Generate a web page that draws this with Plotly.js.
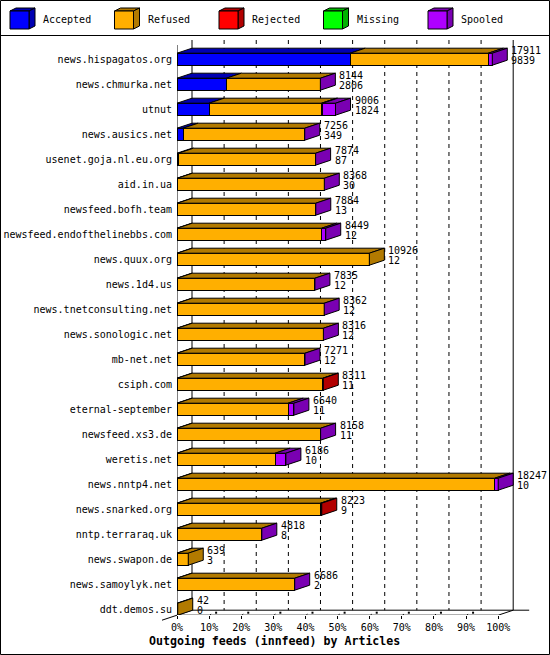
<!DOCTYPE html>
<html><head><meta charset="utf-8">
<script src="https://cdn.plot.ly/plotly-3.0.1.min.js"></script>
<style>html,body{margin:0;padding:0;background:#fff}#chart{width:550px;height:655px}</style>
</head><body><div id="chart"></div>
<script>
// ---- data ----
const feeds = ['news.hispagatos.org','news.chmurka.net','utnut','news.ausics.net','usenet.goja.nl.eu.org','aid.in.ua','newsfeed.bofh.team','newsfeed.endofthelinebbs.com','news.quux.org','news.1d4.us','news.tnetconsulting.net','news.sonologic.net','mb-net.net','csiph.com','eternal-september','newsfeed.xs3.de','weretis.net','news.nntp4.net','news.snarked.org','nntp.terraraq.uk','news.swapon.de','news.samoylyk.net','ddt.demos.su'];
const accepted = [9839,2806,1824,349,87,30,13,12,12,12,12,12,12,11,11,11,10,10,9,8,3,2,0];
const refused  = [7843,5338,6384,6907,7787,8338,7871,8209,10914,7823,8350,8304,7259,8276,6304,8147,5566,18047,8140,4810,636,6684,42];
const rejected = [0,0,75,0,0,0,0,0,null,0,0,0,0,24,0,0,0,0,74,0,null,0,null];
const missing  = [0,0,0,0,0,0,0,0,null,0,0,0,0,null,0,0,0,0,null,0,null,0,null];
const spooled  = [229,0,723,0,0,0,0,228,null,0,0,0,0,null,325,0,610,190,null,0,null,0,null];
const seriesNames = ['Accepted','Refused','Rejected','Missing','Spooled'];
const percentLabels = ['0%','10%','20%','30%','40%','50%','60%','70%','80%','90%','100%'];
const titleText = 'Outgoing feeds (innfeed) by Articles';

// ---- styles ----
const frontColors = ['#0000FF','#FFAF00','#FF0000','#00FF00','#AF00FF'];
const darkColors  = ['#0000B2','#B27A00','#B20000','#00B200','#7A00B2'];
const FONT = 'DejaVu Sans Mono, Liberation Mono, monospace';

const series = [accepted, refused, rejected, missing, spooled];
const n = feeds.length;
const idx = feeds.map((_, i) => i);
const totals = idx.map(i => series.reduce((s, a) => s + (a[i] || 0), 0));
const maxTotal = Math.max(...totals);

// ---- geometry (pixels) ----
const W = 550, H = 655, ML = 177, MR = 2, MT = 40, MB = 40;
const PW = W - ML - MR, PH = H - MT - MB;
const FRONT100 = 321.2;           // px length of 100%
const xPerPx = maxTotal / FRONT100;
const xMax = PW * xPerPx;
const ROW_PX = 25, ROW0_PX = 59.2;
const yTop = (MT - ROW0_PX) / ROW_PX;
const yBot = (H - MB - ROW0_PX) / ROW_PX;
const DX = 15 * xPerPx, DY = 5 / ROW_PX, HALF = 0.24;
const px = p => (p - ML) / PW;            // pixel -> paper x
const py = p => (H - MB - p) / PH;        // pixel -> paper y

// ---- traces ----
const traces = series.map((vals, s) => ({
  type: 'bar', orientation: 'h', name: seriesNames[s],
  x: vals, y: idx, width: HALF * 2,
  marker: {color: frontColors[s], line: {color: '#000', width: 1}},
  hoverinfo: 'skip', showlegend: false
}));

const shapes = [];
const floorFront = (n - 1) + HALF, floorBack = floorFront - DY;
// back grid lines
for (let k = 0; k <= 10; k++) {
  const x = maxTotal * k / 10 + DX;
  shapes.push({type: 'line', layer: 'below', xref: 'x', yref: 'y', x0: x, x1: x, y0: yTop, y1: floorBack,
    line: {color: '#000', width: 1, dash: (k === 0 || k === 10) ? 'solid' : '4px,4px'}});
}
// floor and axis lines
const L = (x0, y0, x1, y1, layer) => shapes.push({type: 'line', layer: layer || 'below', xref: 'x', yref: 'y', x0, y0, x1, y1, line: {color: '#000', width: 1}});
L(0, floorFront, maxTotal, floorFront);
L(maxTotal, floorFront, maxTotal + DX, floorBack);
L(DX, floorBack, maxTotal + DX + 16 * xPerPx, floorBack);
L(0, floorFront, DX, floorBack);
L(0, yTop + DY, 0, floorFront);
// floor edge extending toward the viewer (left of the plot area)
const floorFrontPx = ROW0_PX + floorFront * ROW_PX;
shapes.push({type: 'line', xref: 'paper', yref: 'paper', layer: 'above',
  x0: px(ML - 15), y0: py(floorFrontPx + 5), x1: px(ML), y1: py(floorFrontPx), line: {color: '#000', width: 1}});
// little 3D tick marks on floor
for (let k = 1; k <= 9; k++) {
  const x = maxTotal * k / 10;
  L(x - 1 * xPerPx, floorFront + 1.5 / ROW_PX, x + 2 * xPerPx, floorFront - 1 / ROW_PX, 'above');
  shapes.push({type: 'rect', layer: 'above', xref: 'x', yref: 'y', x0: x + 6 * xPerPx, x1: x + 8 * xPerPx,
    y0: floorFront - 1.5 / ROW_PX, y1: floorFront - 3.5 / ROW_PX, fillcolor: '#000', line: {width: 0}});
}
// 3D faces of the bars
idx.forEach(i => {
  const yt = i - HALF, yb = i + HALF;
  let start = 0, lastS = -1, end = 0;
  series.forEach((vals, s) => {
    const v = vals[i];
    if (v === null || v === undefined) return;
    lastS = s;
    const a = start, b = start + v;
    if (v > 0) {
      shapes.push({type: 'path', layer: 'above', xref: 'x', yref: 'y',
        path: `M${a},${yt} L${b},${yt} L${b + DX},${yt - DY} L${a + DX},${yt - DY} Z`,
        fillcolor: darkColors[s], line: {color: '#000', width: 1}});
    }
    start = b; end = b;
  });
  if (lastS >= 0) {
    shapes.push({type: 'path', layer: 'above', xref: 'x', yref: 'y',
      path: `M${end},${yt} L${end + DX},${yt - DY} L${end + DX},${yb - DY} L${end},${yb} Z`,
      fillcolor: darkColors[lastS], line: {color: '#000', width: 1}});
  }
});

// value labels
const annotations = [];
idx.forEach(i => {
  const x = totals[i] + DX + 2 * xPerPx;
  annotations.push({xref: 'x', yref: 'y', x, y: i - 9 / ROW_PX, text: String(totals[i]), showarrow: false,
    xanchor: 'left', yanchor: 'middle', font: {family: FONT, size: 10, color: '#000'}});
  annotations.push({xref: 'x', yref: 'y', x, y: i + 1.6 / ROW_PX, text: String(accepted[i]), showarrow: false,
    xanchor: 'left', yanchor: 'middle', font: {family: FONT, size: 10, color: '#000'}});
});

// legend (cubes + labels)
seriesNames.forEach((name, s) => {
  const x0 = 10 + s * 104.5, x1 = x0 + 19, y0 = 11, y1 = 29, d = 6, e = 3;
  const P = (pts) => 'M' + pts.map(p => `${px(p[0])},${py(p[1])}`).join(' L') + ' Z';
  shapes.push({type: 'path', xref: 'paper', yref: 'paper', layer: 'above',
    path: P([[x0, y0], [x1, y0], [x1 + d, y0 - e], [x0 + d, y0 - e]]), fillcolor: darkColors[s], line: {color: '#000', width: 1}});
  shapes.push({type: 'path', xref: 'paper', yref: 'paper', layer: 'above',
    path: P([[x1, y0], [x1 + d, y0 - e], [x1 + d, y1 - e], [x1, y1]]), fillcolor: darkColors[s], line: {color: '#000', width: 1}});
  shapes.push({type: 'path', xref: 'paper', yref: 'paper', layer: 'above',
    path: P([[x0, y0], [x1, y0], [x1, y1], [x0, y1]]), fillcolor: frontColors[s], line: {color: '#000', width: 1}});
  annotations.push({xref: 'paper', yref: 'paper', x: px(x0 + 31), y: py(20), text: name, showarrow: false,
    xanchor: 'left', yanchor: 'middle', font: {family: FONT, size: 10, color: '#000'}});
});
// frame and legend separator
shapes.push({type: 'rect', xref: 'paper', yref: 'paper', layer: 'above', x0: px(0.5), x1: px(549.5), y0: py(0.5), y1: py(654.5), line: {color: '#000', width: 1}});
shapes.push({type: 'line', xref: 'paper', yref: 'paper', layer: 'above', x0: px(0.5), x1: px(549.5), y0: py(35.5), y1: py(35.5), line: {color: '#000', width: 1}});
// title
annotations.push({xref: 'paper', yref: 'paper', x: px(274), y: py(641), text: titleText, showarrow: false,
  xanchor: 'center', yanchor: 'middle', font: {family: FONT, size: 11.6, color: '#000', weight: 'bold'}});

const layout = {
  width: W, height: H, margin: {l: ML, r: MR, t: MT, b: MB, pad: 0},
  paper_bgcolor: '#fff', plot_bgcolor: '#fff',
  barmode: 'stack', bargap: 0, showlegend: false,
  font: {family: FONT, size: 10, color: '#000'},
  xaxis: {range: [0, xMax], showgrid: false, zeroline: false, showline: false,
    tickmode: 'array', tickvals: percentLabels.map((_, k) => maxTotal * k / 10), ticktext: percentLabels,
    ticks: 'outside', ticklen: 3, tickcolor: '#000', tickfont: {family: FONT, size: 10, color: '#000'}, fixedrange: true},
  yaxis: {range: [yBot, yTop], showgrid: false, zeroline: false, showline: false,
    tickmode: 'array', tickvals: idx, ticktext: feeds,
    ticks: 'outside', ticklen: 2, tickcolor: 'rgba(0,0,0,0)', tickfont: {family: FONT, size: 10, color: '#000'}, fixedrange: true},
  shapes, annotations
};
Plotly.newPlot('chart', traces, layout, {staticPlot: true, displayModeBar: false});
</script></body></html>
